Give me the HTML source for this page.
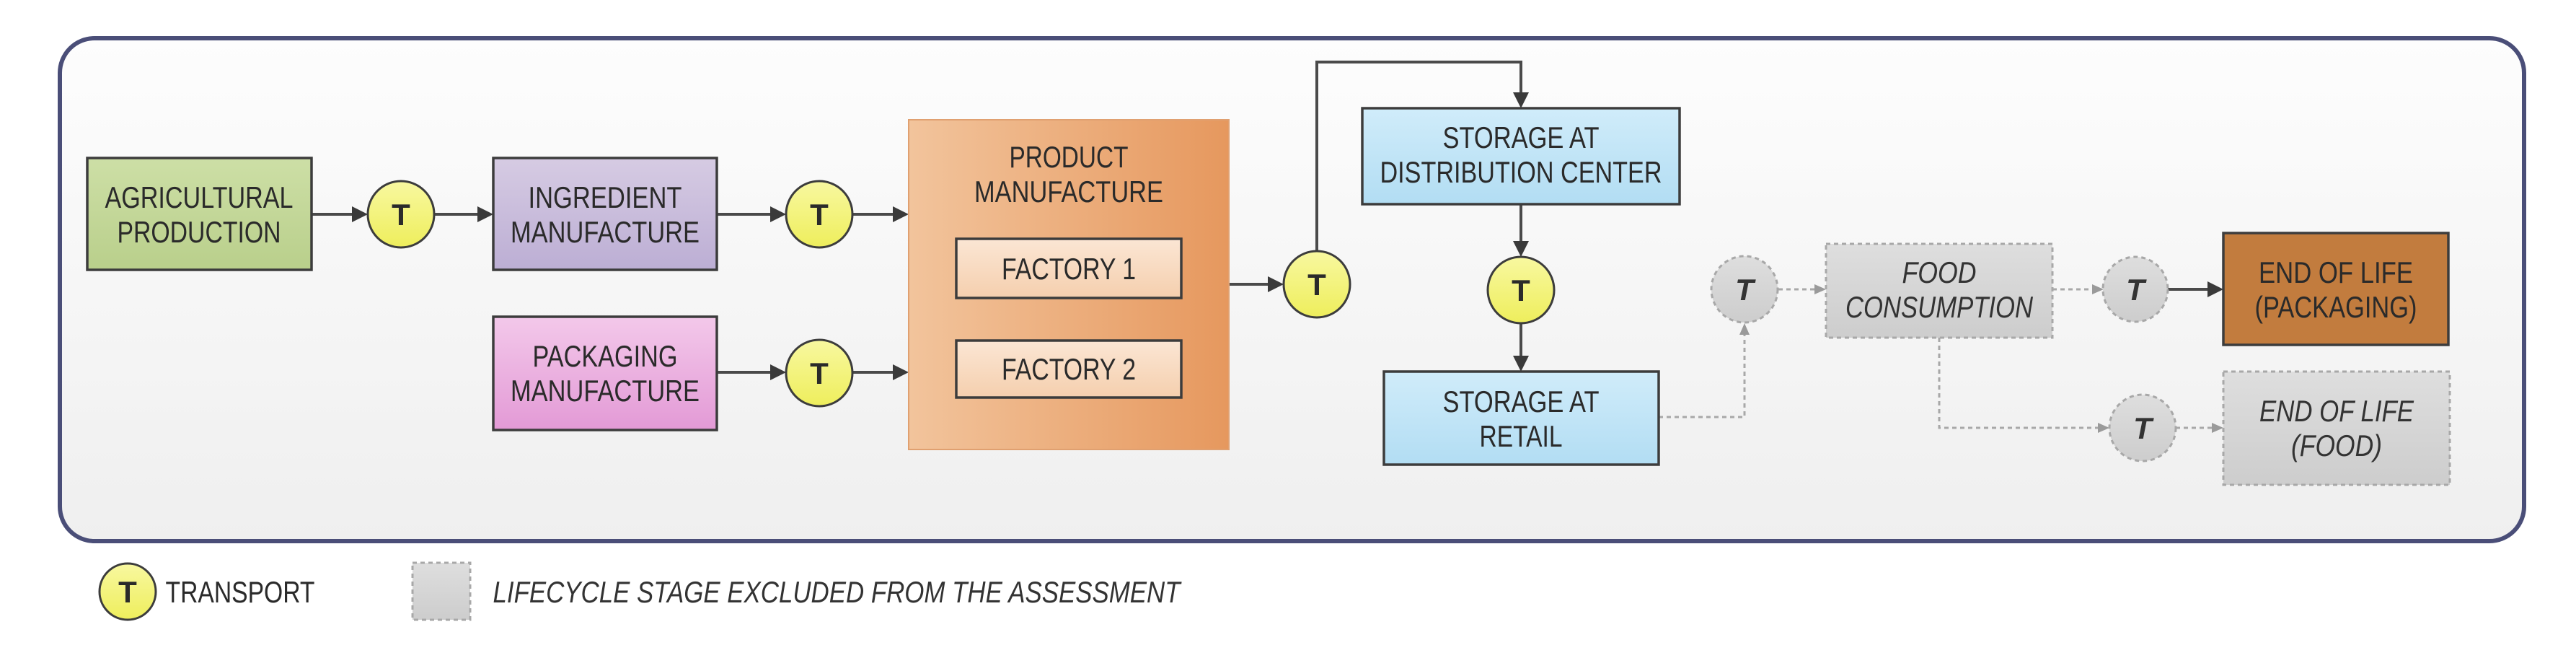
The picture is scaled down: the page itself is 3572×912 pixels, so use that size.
<!DOCTYPE html>
<html><head><meta charset="utf-8"><style>
html,body{margin:0;padding:0;background:#fff;width:3572px;height:912px;overflow:hidden}
svg{display:block}
text{font-family:"Liberation Sans",sans-serif;font-size:42px;fill:#2a2a2a;text-anchor:middle}
.it{font-style:italic;fill:#333}
</style></head><body>
<svg width="3572" height="912" viewBox="0 0 3572 912" xmlns="http://www.w3.org/2000/svg">
<defs>
<linearGradient id="bg" x1="0" y1="0" x2="0" y2="1"><stop offset="0" stop-color="#fdfdfd"/><stop offset="1" stop-color="#efefef"/></linearGradient>
<linearGradient id="gr" x1="0" y1="0" x2="0" y2="1"><stop offset="0" stop-color="#cddfa6"/><stop offset="1" stop-color="#b9cf8b"/></linearGradient>
<linearGradient id="pu" x1="0" y1="0" x2="0" y2="1"><stop offset="0" stop-color="#d6cbe3"/><stop offset="1" stop-color="#bcaed4"/></linearGradient>
<linearGradient id="pk" x1="0" y1="0" x2="0" y2="1"><stop offset="0" stop-color="#f3c8ea"/><stop offset="1" stop-color="#e39ad6"/></linearGradient>
<linearGradient id="or" x1="0" y1="0" x2="1" y2="0"><stop offset="0" stop-color="#f2c49c"/><stop offset="1" stop-color="#e6985e"/></linearGradient>
<linearGradient id="fa" x1="0" y1="0" x2="0" y2="1"><stop offset="0" stop-color="#fbe6d4"/><stop offset="1" stop-color="#f5cfae"/></linearGradient>
<linearGradient id="bl" x1="0" y1="0" x2="0" y2="1"><stop offset="0" stop-color="#d0ecfa"/><stop offset="1" stop-color="#b2ddf3"/></linearGradient>
<linearGradient id="gy" x1="0" y1="0" x2="0" y2="1"><stop offset="0" stop-color="#dedede"/><stop offset="1" stop-color="#cdcdcd"/></linearGradient>
<linearGradient id="ye" x1="0" y1="0" x2="0" y2="1"><stop offset="0" stop-color="#f8f8a0"/><stop offset="1" stop-color="#eeee5c"/></linearGradient>
</defs>
<rect x="83" y="53" width="3417" height="697" rx="48" fill="url(#bg)" stroke="#4a4e78" stroke-width="6"/>

<g fill="none" stroke="#4a4a4a" stroke-width="4">
<path d="M432 297H490M602 297H664M994 297H1070M1182 297H1240M994 516H1070M1182 516H1240M1704 394H1760"/>
<path d="M1826 348V86H2109V130"/>
<path d="M2109 283V336M2109 449V495M3006 401H3063"/>
</g>
<g fill="none" stroke="#a8a8a8" stroke-width="3" stroke-dasharray="6,5">
<path d="M2300 578H2419V464M2466 401H2518M2846 401H2903M2689 468V593H2911M3017 593H3069"/>
</g>
<g fill="#3a3a3a">
<path d="M510 297l-22-11v22zM684 297l-22-11v22zM1090 297l-22-11v22zM1260 297l-22-11v22zM1090 516l-22-11v22zM1260 516l-22-11v22zM1780 394l-22-11v22z"/>
<path d="M2109 150l-11-22h22zM2109 356l-11-22h22zM2109 515l-11-22h22zM3083 401l-22-11v22z"/>
</g>
<g fill="#9a9a9a">
<path d="M2419 448l-7 16h14zM2532 401l-16-7v14zM2917 401l-16-7v14zM2925 593l-16-7v14zM3083 593l-16-7v14z"/>
</g>

<g stroke="#3c3c3c" stroke-width="3.5">
<rect x="121" y="219" width="311" height="155" fill="url(#gr)"/>
<rect x="684" y="219" width="310" height="155" fill="url(#pu)"/>
<rect x="684" y="439" width="310" height="157" fill="url(#pk)"/>
<rect x="1260" y="166" width="444" height="457" fill="url(#or)" stroke="#e0a070" stroke-width="2"/>
<rect x="1326" y="331" width="312" height="82" fill="url(#fa)"/>
<rect x="1326" y="472" width="312" height="79" fill="url(#fa)"/>
<rect x="1889" y="150" width="440" height="133" fill="url(#bl)"/>
<rect x="1919" y="515" width="381" height="129" fill="url(#bl)"/>
<rect x="3083" y="323" width="312" height="155" fill="#c27c3e"/>
</g>
<g stroke="#a8a8a8" stroke-width="3" stroke-dasharray="6,5" fill="url(#gy)">
<rect x="2532" y="338" width="314" height="130"/>
<rect x="3083" y="515" width="314" height="157"/>
<circle cx="2419" cy="401" r="46"/>
<circle cx="2961" cy="401" r="45"/>
<circle cx="2971" cy="593" r="46"/>
<rect x="572" y="780" width="80" height="79"/>
</g>
<g stroke="#3c3c3c" stroke-width="3" fill="url(#ye)">
<circle cx="556" cy="297" r="46"/>
<circle cx="1136" cy="297" r="46"/>
<circle cx="1136" cy="517" r="46"/>
<circle cx="1826" cy="394" r="46"/>
<circle cx="2109" cy="402" r="46"/>
<circle cx="177" cy="820" r="39"/>
</g>

<g style="font-weight:bold">
<text x="556" y="312">T</text><text x="1136" y="312">T</text><text x="1136" y="532">T</text>
<text x="1826" y="409">T</text><text x="2109" y="417">T</text><text x="177" y="835">T</text>
<text class="it" x="2419" y="416">T</text><text class="it" x="2961" y="416">T</text><text class="it" x="2971" y="608">T</text>
</g>

<text x="276" y="288" textLength="261" lengthAdjust="spacingAndGlyphs">AGRICULTURAL</text>
<text x="276" y="336" textLength="227" lengthAdjust="spacingAndGlyphs">PRODUCTION</text>
<text x="839" y="288" textLength="213" lengthAdjust="spacingAndGlyphs">INGREDIENT</text>
<text x="839" y="336" textLength="262" lengthAdjust="spacingAndGlyphs">MANUFACTURE</text>
<text x="839" y="508" textLength="201" lengthAdjust="spacingAndGlyphs">PACKAGING</text>
<text x="839" y="556" textLength="262" lengthAdjust="spacingAndGlyphs">MANUFACTURE</text>
<text x="1482" y="232" textLength="165" lengthAdjust="spacingAndGlyphs">PRODUCT</text>
<text x="1482" y="280" textLength="262" lengthAdjust="spacingAndGlyphs">MANUFACTURE</text>
<text x="1482" y="387" textLength="186" lengthAdjust="spacingAndGlyphs">FACTORY 1</text>
<text x="1482" y="526" textLength="186" lengthAdjust="spacingAndGlyphs">FACTORY 2</text>
<text x="2109" y="205" textLength="217" lengthAdjust="spacingAndGlyphs">STORAGE AT</text>
<text x="2109" y="253" textLength="391" lengthAdjust="spacingAndGlyphs">DISTRIBUTION CENTER</text>
<text x="2109" y="571" textLength="217" lengthAdjust="spacingAndGlyphs">STORAGE AT</text>
<text x="2109" y="619" textLength="115" lengthAdjust="spacingAndGlyphs">RETAIL</text>
<text class="it" x="2689" y="392" textLength="103" lengthAdjust="spacingAndGlyphs">FOOD</text>
<text class="it" x="2689" y="440" textLength="260" lengthAdjust="spacingAndGlyphs">CONSUMPTION</text>
<text x="3239" y="392" textLength="214" lengthAdjust="spacingAndGlyphs">END OF LIFE</text>
<text x="3239" y="440" textLength="225" lengthAdjust="spacingAndGlyphs">(PACKAGING)</text>
<text class="it" x="3240" y="584" textLength="214" lengthAdjust="spacingAndGlyphs">END OF LIFE</text>
<text class="it" x="3240" y="632" textLength="126" lengthAdjust="spacingAndGlyphs">(FOOD)</text>
<text x="333" y="835" textLength="207" lengthAdjust="spacingAndGlyphs">TRANSPORT</text>
<text class="it" x="1160" y="835" textLength="953" lengthAdjust="spacingAndGlyphs">LIFECYCLE STAGE EXCLUDED FROM THE ASSESSMENT</text>
</svg>
</body></html>
